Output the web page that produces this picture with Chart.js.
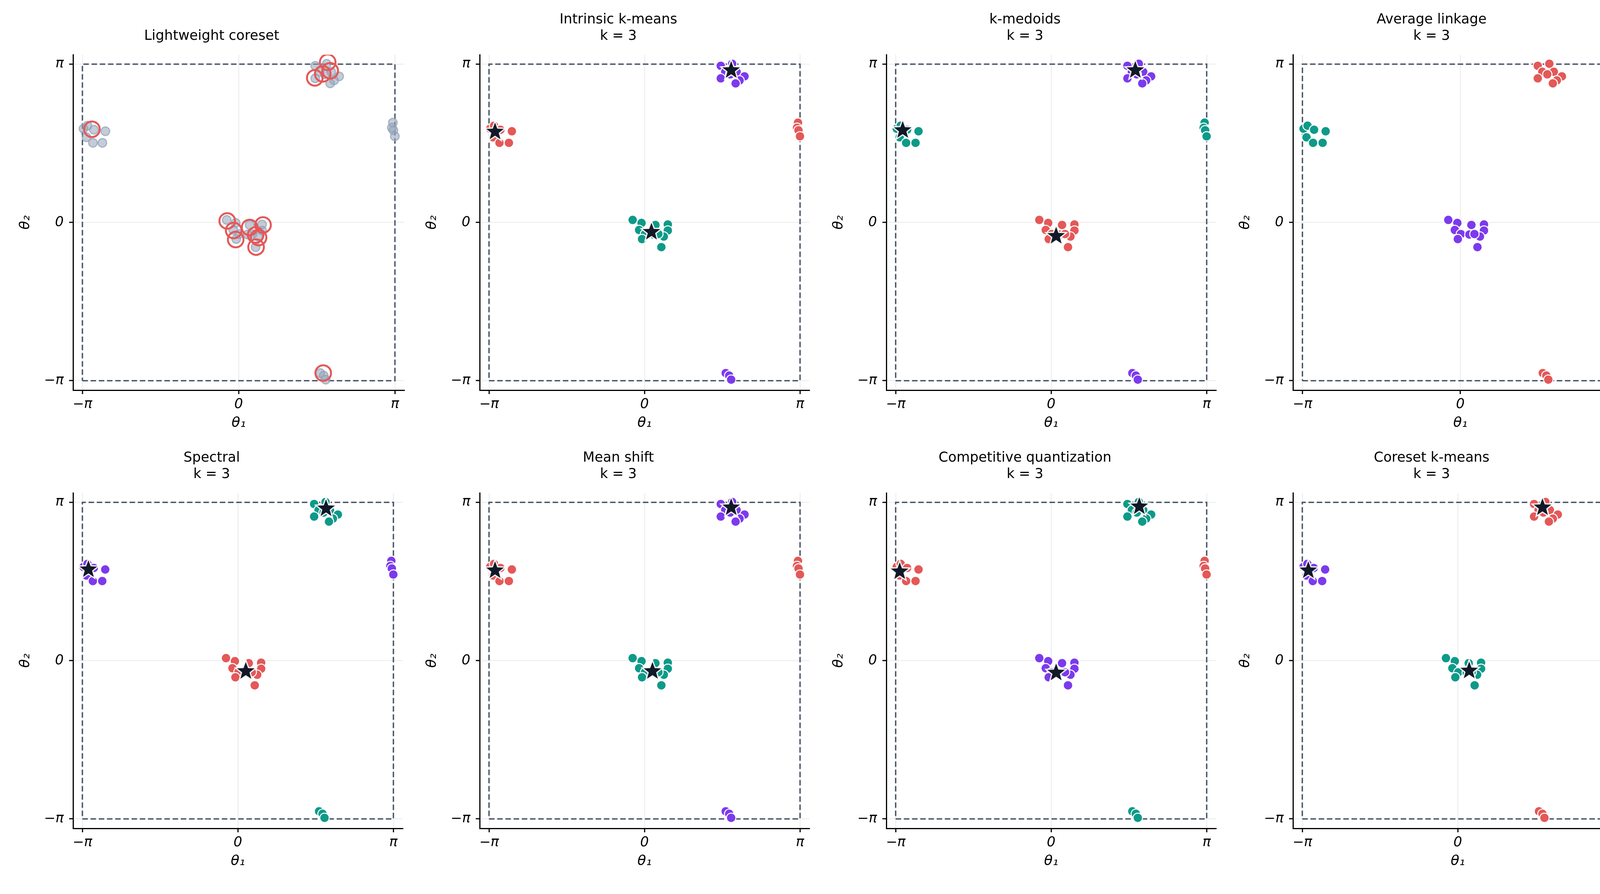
<!DOCTYPE html>
<html>
<head>
<meta charset="utf-8">
<script src="https://cdn.jsdelivr.net/npm/chart.js@4.4.1/dist/chart.umd.min.js"></script>
<style>
  body { margin: 0; background: #fff; width: 4197px; height: 2289px; position: relative; overflow: hidden; }
  canvas { position: absolute; }
</style>
</head>
<body>
<script>
// sample angles (theta1, theta2)
const theta1 = [1.54, 1.77, 1.63, 1.86, 1.54, 2.02, 1.92, 1.84, 1.73,
                1.64, 1.71, 1.75,
                -3.12, -3.04, -2.91, -2.68, -3.06, -2.93, -2.74,
                3.10, 3.08, 3.11, 3.14,
                -0.24, -0.06, 0.22, 0.47, -0.11, 0.47, 0.01, -0.05, 0.39, 0.34, 0.18, 0.28];
const theta2 = [3.11, 3.15, 2.99, 2.99, 2.86, 2.90, 2.82, 2.76, 2.94,
                -2.99, -3.04, -3.12,
                1.86, 1.92, 1.84, 1.81, 1.69, 1.58, 1.58,
                1.98, 1.88, 1.83, 1.71,
                0.05, -0.01, -0.05, -0.04, -0.15, -0.16, -0.23, -0.33, -0.28, -0.49, -0.24, -0.23];
// which wrapped blob each point belongs to (0: top/bottom, 1: left/right, 2: centre)
const blob = [0,0,0,0,0,0,0,0,0, 0,0,0, 1,1,1,1,1,1,1, 1,1,1,1, 2,2,2,2,2,2,2,2,2,2,2,2];

// lightweight coreset points
const coresetX = [-2.95, 1.79, 1.84, 1.69, 1.53, -0.23, -0.10, -0.06, 0.22, 0.49, 0.34, 0.40, 0.35, 1.70];
const coresetY = [1.85, 3.18, 3.01, 2.95, 2.87, 0.03, -0.16, -0.34, -0.10, -0.05, -0.25, -0.30, -0.49, -2.99];

const titles = [['Lightweight coreset'], ['Intrinsic k-means', 'k = 3'], ['k-medoids', 'k = 3'],
  ['Average linkage', 'k = 3'], ['Spectral', 'k = 3'], ['Mean shift', 'k = 3'],
  ['Competitive quantization', 'k = 3'], ['Coreset k-means', 'k = 3']];

// colour of blob 0,1,2 per method (null = coreset panel)
const blobColors = [null,
  ['purple', 'red', 'teal'], ['purple', 'teal', 'red'], ['red', 'teal', 'purple'],
  ['teal', 'purple', 'red'], ['purple', 'red', 'teal'], ['teal', 'red', 'purple'],
  ['red', 'purple', 'teal']];

// cluster centres per method
const centerX = [[], [1.75, -3.02, 0.14], [1.70, -3.00, 0.10], [],
  [1.78, -3.02, 0.16], [1.75, -3.02, 0.16], [1.78, -3.06, 0.10], [1.71, -3.02, 0.23]];
const centerY = [[], [3.02, 1.80, -0.19], [3.02, 1.83, -0.27], [],
  [3.02, 1.81, -0.21], [3.04, 1.79, -0.21], [3.06, 1.77, -0.24], [3.04, 1.79, -0.20]];

const tickValues = [-Math.PI, 0, Math.PI];
const tickLabels = ['−π', '0', 'π'];

const palette = { red: '#e45858', teal: '#0d9a88', purple: '#7c3aed' };
const PI = Math.PI;

// filled star image for centres
function starImage(r) {
  const c = document.createElement('canvas');
  c.width = c.height = 2 * r + 8;
  const g = c.getContext('2d');
  g.translate(r + 4, r + 4);
  g.beginPath();
  for (let i = 0; i < 10; i++) {
    const rad = i % 2 === 0 ? r : r * 0.42;
    const a = -Math.PI / 2 + i * Math.PI / 5;
    g.lineTo(rad * Math.cos(a), rad * Math.sin(a));
  }
  g.closePath();
  g.fillStyle = '#111827';
  g.fill();
  g.lineWidth = 3;
  g.strokeStyle = '#fff';
  g.stroke();
  return c;
}
const star = starImage(28);

const tickFont = { family: 'DejaVu Sans', size: 35, style: 'italic' };
const labelFont = { family: 'DejaVu Sans', size: 36, style: 'italic' };

titles.forEach((title, p) => {
  const col = p % 4, row = Math.floor(p / 4);
  const cv = document.createElement('canvas');
  cv.width = 1020; cv.height = 1122;
  cv.style.left = (40 + col * 1041) + 'px';
  cv.style.top = (row * 1122) + 'px';
  document.body.appendChild(cv);

  const datasets = [{
    type: 'line',
    data: [{x: -PI, y: -PI}, {x: PI, y: -PI}, {x: PI, y: PI}, {x: -PI, y: PI}, {x: -PI, y: -PI}],
    borderColor: '#475569', borderWidth: 3.5, borderDash: [14, 7],
    pointRadius: 0, fill: false, order: 3
  }];

  if (p === 0) {
    datasets.push({
      data: theta1.map((x, i) => ({x, y: theta2[i]})),
      backgroundColor: 'rgba(148,163,184,0.55)', borderColor: 'rgba(148,163,184,0.75)',
      borderWidth: 3, pointRadius: 11, order: 2
    });
    datasets.push({
      data: coresetX.map((x, i) => ({x, y: coresetY[i]})),
      backgroundColor: 'rgba(0,0,0,0)', borderColor: palette.red,
      borderWidth: 5, pointRadius: 20, order: 1
    });
  } else {
    const cols = blobColors[p];
    datasets.push({
      data: theta1.map((x, i) => ({x, y: theta2[i]})),
      backgroundColor: blob.map(b => palette[cols[b]]),
      borderColor: '#fff', borderWidth: 2.5, pointRadius: 12, order: 2
    });
    if (centerX[p].length) {
      datasets.push({
        data: centerX[p].map((x, i) => ({x, y: centerY[p][i]})),
        pointStyle: star, pointRadius: 28, order: 1
      });
    }
  }

  const axis = (label, isY) => ({
    type: 'linear', min: -3.33, max: 3.33,
    afterBuildTicks: s => { s.ticks = tickValues.map(v => ({value: v})); },
    afterFit: s => { if (isY) s.width = 147; else s.height = 110; },
    ticks: {
      color: '#000', font: tickFont, padding: isY ? 14 : 6,
      callback: v => tickLabels[tickValues.findIndex(t => Math.abs(t - v) < 1e-6)]
    },
    grid: { color: '#eeeeee', lineWidth: 2.5, tickColor: '#000', tickLength: 10, tickWidth: 3 },
    border: { color: '#000', width: 3 },
    title: { display: true, text: label, color: '#000', font: labelFont, padding: isY ? {bottom: 0} : {top: 0} }
  });

  new Chart(cv, {
    type: 'scatter',
    data: { datasets },
    options: {
      responsive: false, animation: false, devicePixelRatio: 1,
      layout: { padding: { bottom: 13, right: 16 } },
      plugins: {
        legend: { display: false }, tooltip: { enabled: false },
        title: {
          display: true, text: title, color: '#000',
          font: { family: 'DejaVu Sans', size: 35, weight: 'normal', lineHeight: 1.2 },
          padding: title.length === 1 ? { top: 72, bottom: 26 } : { top: 30, bottom: 26 }
        }
      },
      scales: { x: axis('θ₁', false), y: axis('θ₂', true) }
    }
  });
});
</script>
</body>
</html>
